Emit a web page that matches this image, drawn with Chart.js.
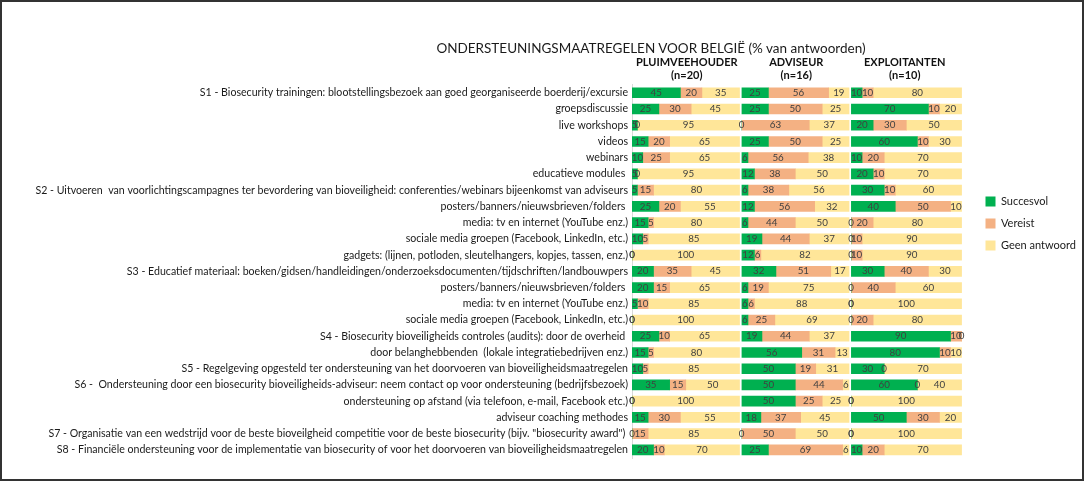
<!DOCTYPE html>
<html><head><meta charset="utf-8">
<script src="https://cdn.jsdelivr.net/npm/chart.js@4.4.1/dist/chart.umd.min.js"></script>
<style>
html,body{margin:0;padding:0;background:#fff;overflow:hidden;}
#wrap{position:relative;width:1084px;height:482px;}
#frame{position:absolute;left:0;top:0;width:1084px;height:481px;box-sizing:border-box;border:2px solid #333;pointer-events:none;}
#title{position:absolute;left:651px;top:40px;transform:translateX(-50%);white-space:nowrap;font-family:Lato,sans-serif;font-size:13.5px;color:#1a1a1a;}
canvas{position:absolute;left:0;top:0;}
</style></head>
<body>
<div id="wrap">
<canvas id="c" width="1084" height="482"></canvas>
<div id="title">ONDERSTEUNINGSMAATREGELEN VOOR BELGIË (% van antwoorden)</div>
<div id="frame"></div>
</div>
<script>
const categories = [
  "S1 - Biosecurity trainingen: blootstellingsbezoek aan goed georganiseerde boerderij/excursie",
  "groepsdiscussie",
  "live workshops",
  "videos",
  "webinars",
  "educatieve modules ",
  "S2 - Uitvoeren  van voorlichtingscampagnes ter bevordering van bioveiligheid: conferenties/webinars bijeenkomst van adviseurs",
  "posters/banners/nieuwsbrieven/folders ",
  "media: tv en internet (YouTube enz.)",
  "sociale media groepen (Facebook, LinkedIn, etc.)",
  "gadgets: (lijnen, potloden, sleutelhangers, kopjes, tassen, enz.)",
  "S3 - Educatief materiaal: boeken/gidsen/handleidingen/onderzoeksdocumenten/tijdschriften/landbouwpers",
  "posters/banners/nieuwsbrieven/folders ",
  "media: tv en internet (YouTube enz.)",
  "sociale media groepen (Facebook, LinkedIn, etc.)",
  "S4 - Biosecurity bioveiligheids controles (audits): door de overheid ",
  "door belanghebbenden  (lokale integratiebedrijven enz.)",
  "S5 - Regelgeving opgesteld ter ondersteuning van het doorvoeren van bioveiligheidsmaatregelen",
  "S6 -  Ondersteuning door een biosecurity bioveiligheids-adviseur: neem contact op voor ondersteuning (bedrijfsbezoek)",
  "ondersteuning op afstand (via telefoon, e-mail, Facebook etc.)",
  "adviseur coaching methodes",
  "S7 - Organisatie van een wedstrijd voor de beste bioveilgheid competitie voor de beste biosecurity (bijv. \"biosecurity award\") ",
  "S8 - Financiële ondersteuning voor de implementatie van biosecurity of voor het doorvoeren van bioveiligheidsmaatregelen"
];
const seriesNames = ["Succesvol", "Vereist", "Geen antwoord"];
const panelTitles = [["PLUIMVEEHOUDER", "(n=20)"], ["ADVISEUR", "(n=16)"], ["EXPLOITANTEN      ", "(n=10)      "]];

const pluimSuccesvol = [45,25,5,15,10,5,5,25,15,10,0,20,20,5,0,25,15,10,35,0,15,0,20];
const pluimVereist   = [20,30,0,20,25,0,15,20,5,5,0,35,15,10,0,10,5,5,15,0,30,15,10];
const pluimGeen      = [35,45,95,65,65,95,80,55,80,85,100,45,65,85,100,65,80,85,50,100,55,85,70];

const adviseurSuccesvol = [25,25,0,25,6,12,6,12,6,19,12,32,6,6,6,19,56,50,50,50,18,0,25];
const adviseurVereist   = [56,50,63,50,56,38,38,56,44,44,6,51,19,6,25,44,31,19,44,25,37,50,69];
const adviseurGeen      = [19,25,37,25,38,50,56,32,50,37,82,17,75,88,69,37,13,31,6,25,45,50,6];

const exploitSuccesvol = [10,70,20,60,10,20,30,40,0,0,0,30,0,0,0,90,80,30,60,0,50,0,10];
const exploitVereist   = [10,10,30,10,20,10,10,50,20,10,10,40,40,0,20,10,10,0,0,0,30,0,20];
const exploitGeen      = [80,20,50,30,70,70,60,10,80,90,90,30,60,100,80,0,10,70,40,100,20,100,70];

const colors = ["#00B050", "#F4B183", "#FFE699"];
const panels = [
  [pluimSuccesvol, pluimVereist, pluimGeen],
  [adviseurSuccesvol, adviseurVereist, adviseurGeen],
  [exploitSuccesvol, exploitVereist, exploitGeen]
];
const axisIds = ["x1", "x2", "x3"];
const axisWeights = [110, 110, 124];
const axisMax = [101.85, 101.85, 111.7];

const datasets = [];
panels.forEach((p, pi) => {
  p.forEach((vals, si) => {
    datasets.push({
      label: seriesNames[si],
      data: vals,
      backgroundColor: colors[si],
      borderWidth: 0,
      xAxisID: axisIds[pi],
      yAxisID: "y",
      stack: "all",
      barThickness: 10
    });
  });
});

const scales = {
  y: {
    type: "category",
    position: "left",
    stacked: true,
    grid: { display: false, drawTicks: false },
    border: { display: true, color: "#d9d9d9", width: 1 },
    ticks: { autoSkip: false, padding: 4, color: "#1a1a1a", font: { family: "Lato", size: 10.6 } },
    afterFit(scale) { scale.width = 632; }
  }
};
axisIds.forEach((id, i) => {
  scales[id] = {
    type: "linear",
    position: "top",
    stack: "panels",
    stackWeight: axisWeights[i],
    weight: 3 - i,
    stacked: true,
    min: 0,
    max: axisMax[i],
    grid: { display: false, drawTicks: false },
    border: { display: false },
    ticks: { display: false },
    title: {
      display: true,
      text: panelTitles[i],
      color: "#111",
      font: { family: "Lato", size: 11, weight: "bold", lineHeight: 1.22 },
      padding: { top: 0, bottom: 2 }
    }
  };
});

const valueLabels = {
  id: "valueLabels",
  afterDatasetsDraw(chart) {
    const ctx = chart.ctx;
    ctx.save();
    ctx.font = "9.8px Lato";
    ctx.fillStyle = "#404040";
    ctx.textAlign = "center";
    ctx.textBaseline = "middle";
    chart.data.datasets.forEach((ds, i) => {
      const meta = chart.getDatasetMeta(i);
      meta.data.forEach((el, j) => {
        ctx.fillText(String(ds.data[j]), (el.x + el.base) / 2, el.y);
      });
    });
    ctx.restore();
  }
};

new Chart(document.getElementById("c"), {
  type: "bar",
  data: { labels: categories, datasets },
  options: {
    indexAxis: "y",
    responsive: false,
    animation: false,
    layout: { padding: { top: 55.8, left: 0, right: -2, bottom: 24 } },
    scales,
    plugins: {
      tooltip: { enabled: false },
      title: { display: false },
      legend: {
        position: "right",
        align: "start",
        title: { display: true, text: "", font: { size: 11, lineHeight: 1.2 }, padding: { top: 0, bottom: 116 } },
        labels: {
          filter: (item) => item.datasetIndex < 3,
          boxWidth: 10,
          boxHeight: 10,
          padding: 11,
          color: "#1a1a1a",
          font: { family: "Lato", size: 11 }
        }
      }
    }
  },
  plugins: [valueLabels]
});
</script>
</body></html>
